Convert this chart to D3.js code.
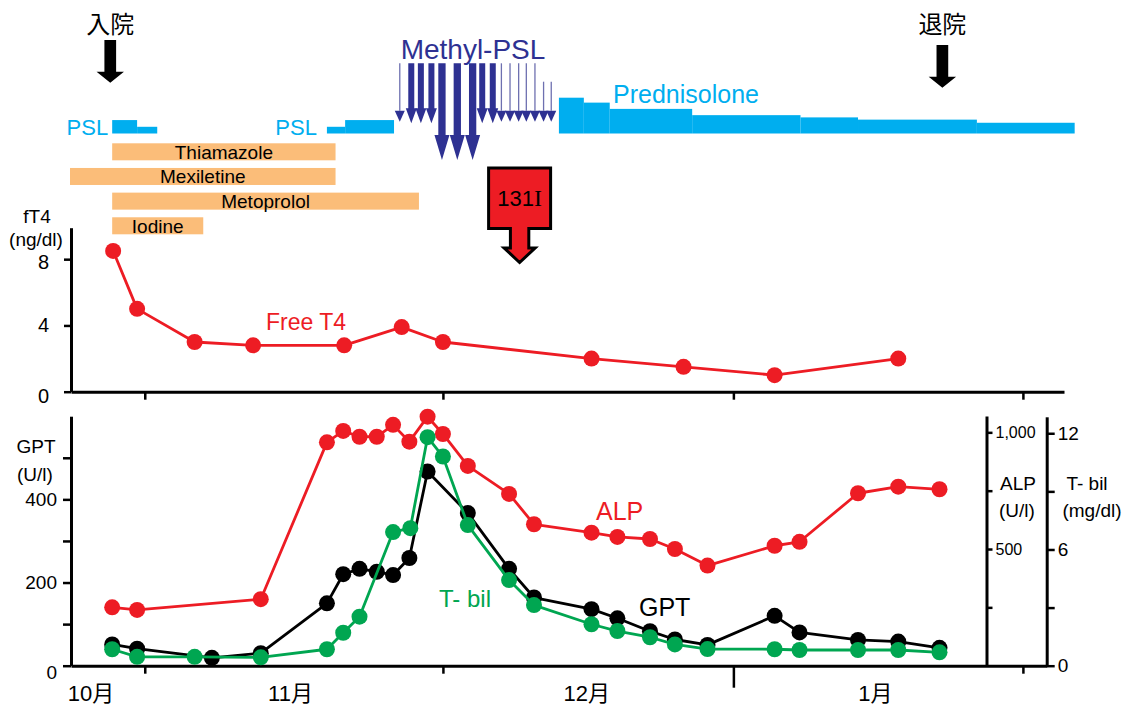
<!DOCTYPE html>
<html>
<head>
<meta charset="utf-8">
<script src="https://cdn.jsdelivr.net/npm/d3@7/dist/d3.min.js"></script>
<style>
  body { margin: 0; background: #fff; }
  svg text { font-family: "Liberation Sans", Arial, "Noto Sans CJK JP", sans-serif; }
</style>
</head>
<body>
<div id="chart"></div>
<script>
// x values are days counted from 1 Oct
var monthLabels = ["10月", "11月", "12月", "1月"];
var monthDays = [10.2, 31, 61.9, 92];
var axisTickDays = [15.8, 46.9, 77.2, 107.4];

var stayLabels = ["入院", "退院"];
var stayDays = [12.2, 99];

// steroid doses (mg/day), drawn as step bars
var psl1Start = [12.4, 15.0], psl1End = [15.0, 17.1], psl1Dose = [30, 15];
var psl2Start = [34.8, 36.7], psl2End = [36.7, 41.8], psl2Dose = [15, 30];
var predStart = [59.0, 61.6, 64.3, 72.9, 84.2, 90.2, 102.6];
var predEnd   = [61.6, 64.3, 72.9, 84.2, 90.2, 102.6, 112.8];
var predDose  = [80, 69, 55, 41, 36, 31, 24];

// methyl-PSL pulses
var methylDays = [42.4, 43.6, 44.6, 45.7, 46.8, 48.4, 50.0, 51.0, 52.1, 53.0, 53.9, 54.8, 55.6, 56.5, 57.4, 58.2];
var methylDose = [250, 500, 500, 500, 1000, 1000, 1000, 500, 500, 250, 250, 250, 250, 250, 125, 125];

var drugNames = ["Thiamazole", "Mexiletine", "Metoprolol", "Iodine"];
var drugStart = [12.4, 8.0, 12.4, 12.4];
var drugEnd   = [35.7, 35.7, 44.4, 21.9];

var raiDay = 54.9;

// free T4 (ng/dl)
var t4Days = [12.5, 15.0, 21.0, 27.1, 36.6, 42.6, 46.9, 62.4, 72.0, 81.5, 94.4];
var t4Vals = [8.5, 5.0, 3.0, 2.8, 2.8, 3.9, 3.0, 2.0, 1.5, 1.0, 2.0];
var t4Ticks = [0, 4, 8];

// liver tests
var alpDays = [12.4, 15.0, 27.9, 34.8, 36.5, 38.2, 40.0, 41.7, 43.4, 45.3, 46.9, 49.5, 53.8, 56.4, 62.4, 65.1, 68.5, 71.1, 74.5, 81.5, 84.1, 90.2, 94.4, 98.7];
var alpVals = [250, 239, 285, 957, 1006, 981, 981, 1032, 960, 1067, 993, 856, 736, 606, 570, 552, 543, 500, 429, 514, 531, 739, 767, 756];
var gptDays = [12.4, 15.0, 22.8, 27.9, 34.8, 36.5, 38.2, 40.0, 41.7, 43.4, 45.3, 49.5, 53.8, 56.4, 62.4, 65.1, 68.5, 71.1, 74.5, 81.5, 84.1, 90.2, 94.4, 98.7];
var gptVals = [51, 41, 19, 30, 150, 220, 233, 226, 218, 259, 467, 367, 233, 164, 136, 114, 83, 63, 50, 120, 80, 62, 58, 43];
var tbilDays = [12.4, 15.0, 21.0, 27.9, 34.8, 36.5, 38.2, 41.7, 43.5, 45.3, 46.9, 49.5, 53.8, 56.4, 62.4, 65.1, 68.5, 71.1, 74.5, 81.5, 84.1, 90.2, 94.4, 98.7];
var tbilVals = [0.85, 0.46, 0.46, 0.43, 0.85, 1.7, 2.53, 6.9, 7.1, 11.8, 10.8, 7.26, 4.42, 3.13, 2.14, 1.79, 1.47, 1.1, 0.86, 0.85, 0.81, 0.81, 0.81, 0.69];
var gptTicks = [0, 100, 200, 300, 400, 500];
var alpTicks = [250, 500, 750, 1000];
var tbilTicks = [0, 3, 6, 9, 12];

var RED = "#ed1c24", GREEN = "#00a651", BLUE = "#00aeef", NAVY = "#2e3192", ORANGE = "#fbbd79";

var svg = d3.select("#chart").append("svg")
    .attr("width", 1129)
    .attr("height", 707);

var x = d3.scaleLinear().domain([8, 112]).range([70, 1067]);

var yT4 = d3.scaleLinear().domain([0, 9.9]).range([391.7, 227.7]);
var yGPT = d3.scaleLinear().domain([0, 600]).range([665.7, 416.2]);
var yALP = d3.scaleLinear().domain([0, 1070]).range([665.7, 416.0]);
var yTbil = d3.scaleLinear().domain([0, 12.85]).range([665.7, 416.8]);
var yDose = d3.scaleLinear().domain([0, 80]).range([133.5, 97.7]);

const styleAxis = (g, size) => {
    g.select(".domain").attr("stroke", "#000").attr("stroke-width", 3);
    g.selectAll(".tick line").attr("stroke", "#000").attr("stroke-width", 2.5);
    g.selectAll(".tick text").attr("fill", "#000").style("font-size", size + "px");
}

const arrowPath = (cx, top, tip, w, hw, hl) => {
    return "M" + (cx - w / 2) + "," + top + "V" + (tip - hl) + "H" + (cx - hw / 2) +
        "L" + cx + "," + tip + "L" + (cx + hw / 2) + "," + (tip - hl) +
        "H" + (cx + w / 2) + "V" + top + "Z";
}

// ---- admission / discharge arrows
stayLabels.forEach(function (lab, i) {
    var cx = x(stayDays[i]);
    svg.append("text").attr("x", cx).attr("y", 33).attr("text-anchor", "middle")
        .style("font-size", "24px").text(lab);
    var off = i * 5;
    svg.append("path").attr("d", arrowPath(cx, 40 + off, 82.7 + off, 11.7, 27.4, 11)).attr("fill", "#000");
});

// ---- PSL / prednisolone step bars
const doseBars = (starts, ends, doses) => {
    svg.append("g").selectAll("rect")
        .data(doses)
        .enter()
        .append("rect")
        .attr("x", (d, i) => x(starts[i]))
        .attr("width", (d, i) => x(ends[i]) - x(starts[i]))
        .attr("y", d => yDose(d))
        .attr("height", d => yDose(0) - yDose(d))
        .attr("fill", BLUE);
}
doseBars(psl1Start, psl1End, psl1Dose);
doseBars(psl2Start, psl2End, psl2Dose);
doseBars(predStart, predEnd, predDose);

svg.append("text").attr("x", x(psl1Start[0]) - 4).attr("y", 135).attr("text-anchor", "end")
    .attr("fill", BLUE).style("font-size", "22px").text("PSL");
svg.append("text").attr("x", x(psl2Start[0]) - 10).attr("y", 135).attr("text-anchor", "end")
    .attr("fill", BLUE).style("font-size", "22px").text("PSL");
svg.append("text").attr("x", 613).attr("y", 103).attr("fill", BLUE)
    .style("font-size", "25px").text("Prednisolone");

// ---- methyl-PSL pulses
var methylStyle = {
    1000: { w: 7.3, hw: 15, hl: 25, top: 63.3, tip: 160 },
    500: { w: 6, hw: 11, hl: 15, top: 63.3, tip: 123.3 },
    250: { w: 1.3, hw: 10, hl: 11, top: 63.3, tip: 121.7 },
    125: { w: 1.3, hw: 10, hl: 11, top: 81.7, tip: 121.7 }
};
var mg = svg.append("g");
methylDays.forEach(function (d, i) {
    var s = methylStyle[methylDose[i]], cx = x(d);
    if (s.w < 2) {
        mg.append("line").attr("x1", cx).attr("x2", cx).attr("y1", s.top).attr("y2", s.tip - s.hl)
            .attr("stroke", "#6e70b0").attr("stroke-width", s.w);
        mg.append("path").attr("d", "M" + (cx - s.hw / 2) + "," + (s.tip - s.hl) + "L" + cx + "," + s.tip +
            "L" + (cx + s.hw / 2) + "," + (s.tip - s.hl) + "Z").attr("fill", NAVY);
    } else {
        mg.append("path").attr("d", arrowPath(cx, s.top, s.tip, s.w, s.hw, s.hl)).attr("fill", NAVY);
    }
});
svg.append("text").attr("x", 473).attr("y", 59).attr("text-anchor", "middle")
    .attr("fill", NAVY).style("font-size", "28px").text("Methyl-PSL");

// ---- drug bars
var yDrug = d3.scaleBand().domain(drugNames).range([143.3, 234.3]).paddingInner(0.31);
var dg = svg.append("g").selectAll("g")
    .data(drugNames)
    .enter()
    .append("g");
dg.append("rect")
    .attr("x", (d, i) => x(drugStart[i]))
    .attr("width", (d, i) => x(drugEnd[i]) - x(drugStart[i]))
    .attr("y", d => yDrug(d))
    .attr("height", yDrug.bandwidth())
    .attr("fill", ORANGE);
dg.append("text")
    .attr("x", (d, i) => (x(drugStart[i]) + x(drugEnd[i])) / 2)
    .attr("y", d => yDrug(d) + yDrug.bandwidth() - 1.5)
    .attr("text-anchor", "middle")
    .style("font-size", "19px")
    .text(d => d);

// ---- 131I
var rx = x(raiDay);
svg.append("path")
    .attr("d", "M" + (rx - 31) + ",168H" + (rx + 31) + "V228.5H" + (rx + 9.2) + "V248H" + (rx + 15.5) +
        "L" + rx + ",262.5L" + (rx - 15.5) + ",248H" + (rx - 9.2) + "V228.5H" + (rx - 31) + "Z")
    .attr("fill", RED).attr("stroke", "#000").attr("stroke-width", 3);
var rt = svg.append("text").attr("x", rx).attr("y", 206).attr("text-anchor", "middle").style("font-size", "22px");
rt.append("tspan").text("131");
rt.append("tspan").style("font-family", "'Liberation Serif', serif").style("font-size", "24px").text("I");

// ---- fT4 panel
var xTop = x.copy().domain([x.invert(71), x.invert(1064)]).range([71, 1064]);
var gx1 = svg.append("g").attr("transform", "translate(0,391.7)")
    .call(d3.axisBottom(xTop).tickValues(axisTickDays).tickSize(8).tickSizeOuter(0).tickFormat(""));
styleAxis(gx1, 19);
var gy1 = svg.append("g").attr("transform", "translate(71,0)")
    .call(d3.axisLeft(yT4).tickValues(t4Ticks).tickSize(7).tickSizeOuter(0).tickPadding(15));
styleAxis(gy1, 20);
gy1.selectAll(".tick text").filter(d => d === 0).attr("dy", "0.55em");
gy1.selectAll(".tick text").filter(d => d === 8).attr("dy", "0.45em");
svg.append("text").attr("x", 37).attr("y", 223).attr("text-anchor", "middle").style("font-size", "19px").text("fT4");
svg.append("text").attr("x", 36).attr("y", 246).attr("text-anchor", "middle").style("font-size", "19px").text("(ng/dl)");

const series = (days, vals, y, color) => {
    var pts = days.map((d, i) => [x(d), y(vals[i])]);
    var g = svg.append("g");
    g.append("path").attr("d", d3.line()(pts)).attr("fill", "none")
        .attr("stroke", color).attr("stroke-width", 2.8).attr("stroke-linejoin", "round");
    g.selectAll("circle").data(pts).enter().append("circle")
        .attr("cx", p => p[0]).attr("cy", p => p[1]).attr("r", 8).attr("fill", color);
}
series(t4Days, t4Vals, yT4, RED);
svg.append("text").attr("x", 266).attr("y", 330).attr("fill", RED).style("font-size", "23px").text("Free T4");

// ---- liver panel
var xBot = x.copy().domain([x.invert(71), x.invert(1046.7)]).range([71, 1046.7]);
var gx2 = svg.append("g").attr("transform", "translate(0,665.7)")
    .call(d3.axisBottom(xBot).tickValues(axisTickDays).tickSize(8).tickSizeOuter(0).tickFormat(""));
styleAxis(gx2, 19);
gx2.selectAll(".tick line").filter(d => d === 77.2).attr("y2", 22);

svg.append("g").selectAll("text")
    .data(monthLabels)
    .enter()
    .append("text")
    .attr("x", (d, i) => x(monthDays[i]))
    .attr("y", 701)
    .attr("text-anchor", "middle")
    .style("font-size", "22px")
    .text(d => d);

var gy2 = svg.append("g").attr("transform", "translate(71,0)")
    .call(d3.axisLeft(yGPT).tickValues(gptTicks).tickSize(8).tickSizeOuter(0).tickPadding(6)
        .tickFormat(d => d % 200 === 0 ? d : ""));
styleAxis(gy2, 19);
gy2.selectAll(".tick text").filter(d => d === 0).attr("dy", "0.65em");
svg.append("text").attr("x", 36).attr("y", 453).attr("text-anchor", "middle").style("font-size", "19px").text("GPT");
svg.append("text").attr("x", 35).attr("y", 481).attr("text-anchor", "middle").style("font-size", "19px").text("(U/l)");

var gy3 = svg.append("g").attr("transform", "translate(986.5,0)")
    .call(d3.axisRight(yALP).tickValues(alpTicks).tickSize(6).tickSizeOuter(0).tickPadding(3)
        .tickFormat(d => d % 500 === 0 ? d3.format(",")(d) : ""));
styleAxis(gy3, 16);
var gy4 = svg.append("g").attr("transform", "translate(1046.7,0)")
    .call(d3.axisRight(yTbil).tickValues(tbilTicks).tickSize(8).tickSizeOuter(0).tickPadding(3)
        .tickFormat(d => d % 6 === 0 ? d : ""));
styleAxis(gy4, 19);

svg.append("text").attr("x", 1018).attr("y", 490).attr("text-anchor", "middle").style("font-size", "19px").text("ALP");
svg.append("text").attr("x", 1017).attr("y", 517).attr("text-anchor", "middle").style("font-size", "19px").text("(U/l)");
svg.append("text").attr("x", 1087).attr("y", 490).attr("text-anchor", "middle").style("font-size", "19px").text("T- bil");
svg.append("text").attr("x", 1092).attr("y", 517).attr("text-anchor", "middle").style("font-size", "19px").text("(mg/dl)");

series(alpDays, alpVals, yALP, RED);
series(gptDays, gptVals, yGPT, "#000");
series(tbilDays, tbilVals, yTbil, GREEN);

svg.append("text").attr("x", 596).attr("y", 520).attr("fill", RED).style("font-size", "25px").text("ALP");
svg.append("text").attr("x", 439).attr("y", 607).attr("fill", GREEN).style("font-size", "24px").text("T- bil");
svg.append("text").attr("x", 639).attr("y", 616).attr("fill", "#000").style("font-size", "25px").text("GPT");
</script>
</body>
</html>
